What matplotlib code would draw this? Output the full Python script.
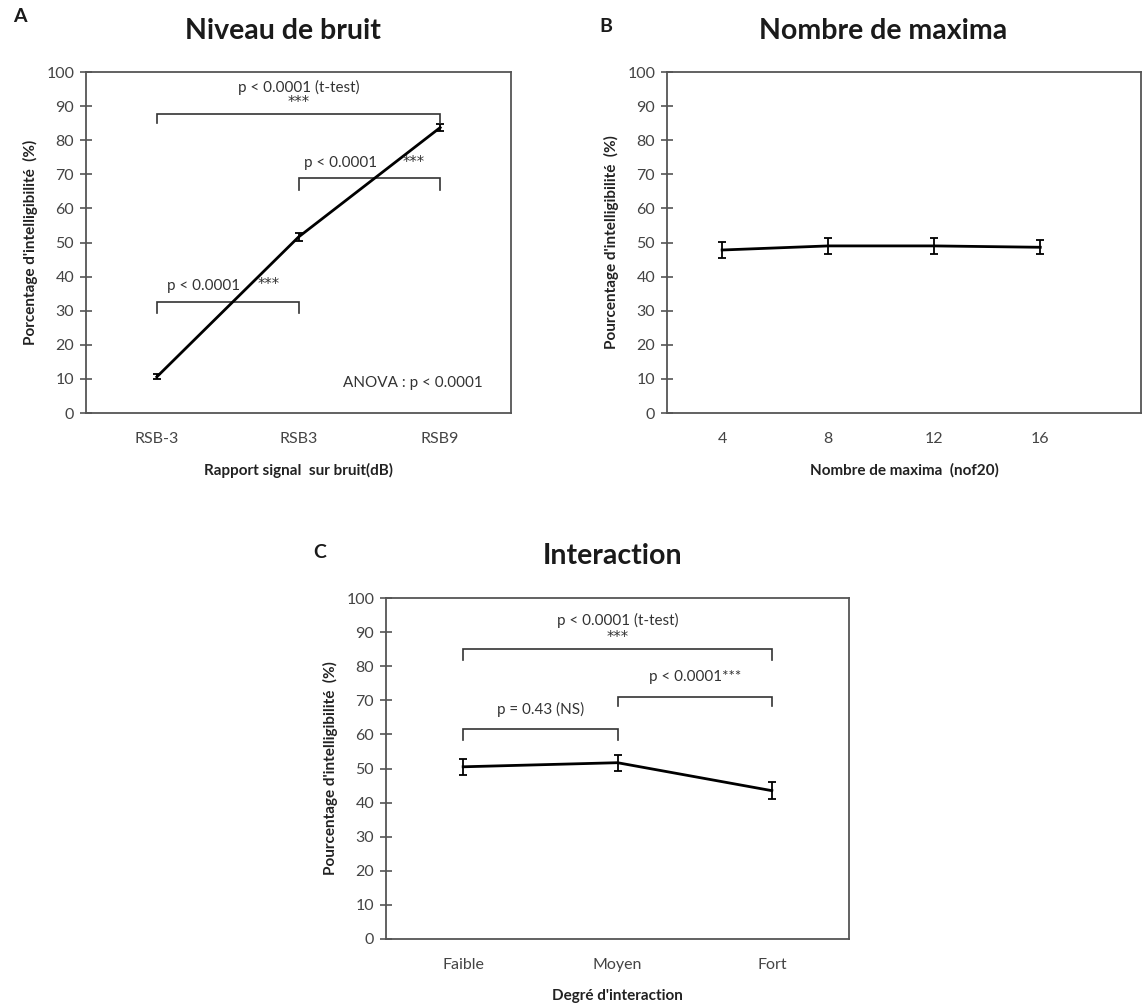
import matplotlib
matplotlib.use("Agg")
import matplotlib.pyplot as plt

plt.rcParams['font.family'] = ['Lato', 'DejaVu Sans']

# Panel A: noise level
snr_labels = ["RSB-3", "RSB3", "RSB9"]
snr_means = [10.6, 51.6, 83.7]
snr_err = [0.7, 1.1, 1.0]

# Panel B: number of maxima
maxima_labels = ["4", "8", "12", "16"]
maxima_means = [47.8, 49.0, 49.0, 48.6]
maxima_err = [2.4, 2.4, 2.4, 2.1]

# Panel C: interaction
inter_labels = ["Faible", "Moyen", "Fort"]
inter_means = [50.5, 51.7, 43.5]
inter_err = [2.4, 2.3, 2.4]

yticks = list(range(0, 101, 10))

W, H = 1142, 1006
fig = plt.figure(figsize=(W / 100, H / 100), dpi=100)

spine_col = "#555555"
tick_col = "#444444"


def setup(ax, labels, values, errs, xlim, xlabel, ylabel, title, letter,
          letter_xy, title_xy):
    x = list(range(len(labels)))
    ax.errorbar(x, values, yerr=errs, color="black", lw=2.0, capsize=3.2,
                elinewidth=1.3, capthick=1.3)
    ax.set_xlim(*xlim)
    ax.set_ylim(0, 100)
    ax.set_yticks(yticks)
    ax.set_xticks(x)
    ax.set_xticklabels(labels, fontsize=11.5, color=tick_col)
    ax.tick_params(axis="x", length=0, pad=14)
    ax.tick_params(axis="y", direction="inout", length=9, width=1.2,
                   colors=spine_col, labelcolor=tick_col, labelsize=11.5, pad=4)
    for s in ax.spines.values():
        s.set_color(spine_col)
        s.set_linewidth(1.3)
    ax.set_ylabel(ylabel, fontsize=11, fontweight="bold", color="#222222",
                  labelpad=6)
    ax.set_xlabel(xlabel, fontsize=11, fontweight="bold", color="#222222",
                  labelpad=12)
    fig.text(title_xy[0] / W, 1 - title_xy[1] / H, title, fontsize=20.5,
             fontweight="bold", ha="center", va="center", color="#1a1a1a")
    fig.text(letter_xy[0] / W, 1 - letter_xy[1] / H, letter, fontsize=14,
             fontweight="bold", ha="center", va="center", color="#1a1a1a")


def bracket(ax, x0, x1, y, drop, lw=1.2):
    ax.plot([x0, x0, x1, x1], [y - drop, y, y, y - drop], color="#333333",
            lw=lw, solid_joinstyle="miter")


ann = dict(fontsize=11, color="#333333", ha="center", va="center")
stars = dict(fontsize=10.5, color="#333333", ha="center", va="center",
             family="DejaVu Sans")

# Panel A
axA = fig.add_axes([86 / W, 1 - 413 / H, 425 / W, 341 / H])
setup(axA, snr_labels, snr_means, snr_err, (-0.5, 2.5),
      "Rapport signal  sur bruit(dB)", "Porcentage d'intelligibilité  (%)",
      "Niveau de bruit", "A", (20, 17), (283, 31))
bracket(axA, 0, 2, 87.7, 2.8)
bracket(axA, 1, 2, 68.9, 3.5)
bracket(axA, 0, 1, 32.6, 3.3)
axA.text(1, 95.6, "p < 0.0001 (t-test)", **ann)
axA.text(1, 91.0, "***", **stars)
axA.text(1.3, 73.2, "p < 0.0001", **ann)
axA.text(1.81, 73.4, "***", **stars)
axA.text(0.33, 37.3, "p < 0.0001", **ann)
axA.text(0.79, 37.7, "***", **stars)
axA.text(2.3, 8.7, "ANOVA : p < 0.0001", fontsize=11, color="#333333",
         ha="right", va="center")

# Panel B
axB = fig.add_axes([667 / W, 1 - 413 / H, 474 / W, 341 / H])
setup(axB, maxima_labels, maxima_means, maxima_err, (-0.52, 3.95),
      "Nombre de maxima  (nof20)", "Pourcentage d'intelligibilité  (%)",
      "Nombre de maxima", "B", (606, 27), (883, 31))

# Panel C
axC = fig.add_axes([386 / W, 1 - 939 / H, 463 / W, 341 / H])
setup(axC, inter_labels, inter_means, inter_err, (-0.5, 2.5),
      "Degré d'interaction", "Pourcentage d'intelligibilité  (%)",
      "Interaction", "C", (320, 553), (613, 556))
bracket(axC, 0, 2, 85.0, 3.2)
bracket(axC, 1, 2, 71.0, 2.6)
bracket(axC, 0, 1, 61.6, 3.2)
axC.text(1, 93.5, "p < 0.0001 (t-test)", **ann)
axC.text(1, 88.3, "***", **stars)
axC.text(0.5, 67.2, "p = 0.43 (NS)", **ann)
axC.text(1.5, 76.9, "p < 0.0001***", **ann)

fig.savefig("out.png", dpi=100, facecolor="white")
